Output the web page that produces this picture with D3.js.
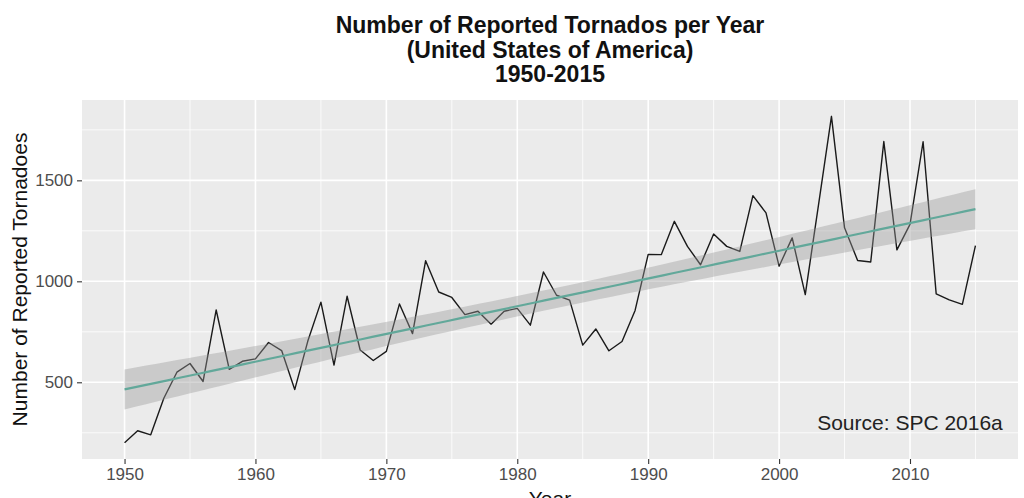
<!DOCTYPE html>
<html>
<head>
<meta charset="utf-8">
<script src="https://cdn.jsdelivr.net/npm/d3@7"></script>
<style>
body { margin: 0; background: #fff; }
svg { display: block; font-family: "Liberation Sans", Arial, sans-serif; }
</style>
</head>
<body>
<div id="chart"></div>
<script>
var WIDTH = 1024;
var HEIGHT = 498;
var PANEL = { left: 82, right: 1018, top: 100, bottom: 459 };

var years = d3.range(1950, 2016);
var tornadoes = [201, 260, 240, 421, 550, 593, 504, 858, 564, 604,
    616, 697, 657, 464, 704, 897, 585, 926, 660, 608,
    653, 888, 741, 1102, 947, 920, 835, 852, 788, 852,
    866, 783, 1046, 931, 907, 684, 764, 656, 702, 856,
    1133, 1132, 1297, 1173, 1082, 1234, 1173, 1148, 1424, 1339,
    1075, 1215, 934, 1374, 1817, 1265, 1103, 1096, 1692, 1156,
    1282, 1691, 938, 908, 886, 1177];
var xTicks = [1950, 1960, 1970, 1980, 1990, 2000, 2010];
var xMinor = [1955, 1965, 1975, 1985, 1995, 2005, 2015];
var yTicks = [500, 1000, 1500];
var yMinor = [250, 750, 1250, 1750];
var titleLines = ["Number of Reported Tornados per Year", "(United States of America)", "1950-2015"];
var sourceNote = { year: 2010, value: 300, text: "Source: SPC 2016a" };

// linear fit with 95% confidence band (like geom_smooth(method = "lm"))
function linearFit(xs, ys) {
    var n = xs.length;
    var mx = d3.mean(xs), my = d3.mean(ys);
    var sxx = d3.sum(xs, function (x) { return (x - mx) * (x - mx); });
    var sxy = d3.sum(xs, function (x, i) { return (x - mx) * (ys[i] - my); });
    var slope = sxy / sxx;
    var icpt = my - slope * mx;
    var sse = d3.sum(xs, function (x, i) { var r = ys[i] - (icpt + slope * x); return r * r; });
    var s = Math.sqrt(sse / (n - 2));
    var t = 1.9977; // qt(0.975, 64)
    var lo = d3.min(xs), hi = d3.max(xs);
    return d3.range(80).map(function (k) {
        var x = lo + (hi - lo) * k / 79;
        var fit = icpt + slope * x;
        var se = s * Math.sqrt(1 / n + (x - mx) * (x - mx) / sxx);
        return { x: x, y: fit, ymin: fit - t * se, ymax: fit + t * se };
    });
}
var smooth = linearFit(years, tornadoes);

var svg = d3.select("#chart").append("svg")
    .attr("width", WIDTH)
    .attr("height", HEIGHT);

var xExt = d3.extent(years);
var xPad = (xExt[1] - xExt[0]) * 0.05;
var x = d3.scaleLinear()
    .domain([xExt[0] - xPad, xExt[1] + xPad])
    .range([PANEL.left, PANEL.right]);

var yLo = Math.min(d3.min(tornadoes), d3.min(smooth, function (d) { return d.ymin; }));
var yHi = Math.max(d3.max(tornadoes), d3.max(smooth, function (d) { return d.ymax; }));
var yPad = (yHi - yLo) * 0.05;
var y = d3.scaleLinear()
    .domain([yLo - yPad, yHi + yPad])
    .range([PANEL.bottom, PANEL.top]);

// panel
svg.append("rect")
    .attr("x", PANEL.left).attr("y", PANEL.top)
    .attr("width", PANEL.right - PANEL.left)
    .attr("height", PANEL.bottom - PANEL.top)
    .attr("fill", "#EBEBEB");

var grid = svg.append("g");
grid.selectAll(".ymin").data(yMinor).enter().append("line")
    .attr("x1", PANEL.left).attr("x2", PANEL.right)
    .attr("y1", function (d) { return y(d); }).attr("y2", function (d) { return y(d); })
    .attr("stroke", "#fff").attr("stroke-width", 0.8);
grid.selectAll(".xmin").data(xMinor).enter().append("line")
    .attr("y1", PANEL.top).attr("y2", PANEL.bottom)
    .attr("x1", function (d) { return x(d); }).attr("x2", function (d) { return x(d); })
    .attr("stroke", "#fff").attr("stroke-width", 0.8);
grid.selectAll(".ymaj").data(yTicks).enter().append("line")
    .attr("x1", PANEL.left).attr("x2", PANEL.right)
    .attr("y1", function (d) { return y(d); }).attr("y2", function (d) { return y(d); })
    .attr("stroke", "#fff").attr("stroke-width", 1.6);
grid.selectAll(".xmaj").data(xTicks).enter().append("line")
    .attr("y1", PANEL.top).attr("y2", PANEL.bottom)
    .attr("x1", function (d) { return x(d); }).attr("x2", function (d) { return x(d); })
    .attr("stroke", "#fff").attr("stroke-width", 1.6);

// data line
var line = d3.line()
    .x(function (d, i) { return x(years[i]); })
    .y(function (d) { return y(d); });
svg.append("path")
    .datum(tornadoes)
    .attr("d", line)
    .attr("fill", "none")
    .attr("stroke", "#1a1a1a")
    .attr("stroke-width", 1.4)
    .attr("stroke-linejoin", "round");

// confidence ribbon + fit
svg.append("path")
    .datum(smooth)
    .attr("d", d3.area()
        .x(function (d) { return x(d.x); })
        .y0(function (d) { return y(d.ymin); })
        .y1(function (d) { return y(d.ymax); }))
    .attr("fill", "#999999")
    .attr("fill-opacity", 0.4);
svg.append("path")
    .datum(smooth)
    .attr("d", d3.line()
        .x(function (d) { return x(d.x); })
        .y(function (d) { return y(d.y); }))
    .attr("fill", "none")
    .attr("stroke", "#62A89A")
    .attr("stroke-width", 2.2);

// axes
var xAxis = svg.append("g")
    .attr("transform", "translate(0," + PANEL.bottom + ")")
    .call(d3.axisBottom(x).tickValues(xTicks).tickFormat(d3.format("d"))
        .tickSize(5).tickPadding(4));
var yAxis = svg.append("g")
    .attr("transform", "translate(" + PANEL.left + ",0)")
    .call(d3.axisLeft(y).tickValues(yTicks).tickFormat(d3.format("d"))
        .tickSize(5).tickPadding(4));
[xAxis, yAxis].forEach(function (g) {
    g.select(".domain").remove();
    g.selectAll(".tick line").attr("stroke", "#333").attr("stroke-width", 1.1);
    g.selectAll(".tick text").attr("fill", "#4D4D4D")
        .style("font-size", "17px");
});

// titles
svg.append("text")
    .attr("text-anchor", "middle")
    .attr("font-weight", "bold")
    .style("font-size", "23px")
    .attr("fill", "#111")
    .selectAll("tspan").data(titleLines).enter().append("tspan")
    .attr("x", (PANEL.left + PANEL.right) / 2)
    .attr("y", function (d, i) { return 33 + i * 24.5; })
    .text(function (d) { return d; });

svg.append("text")
    .attr("transform", "translate(27," + ((PANEL.top + PANEL.bottom) / 2) + ") rotate(-90)")
    .attr("text-anchor", "middle")
    .style("font-size", "21px")
    .attr("fill", "#111")
    .text("Number of Reported Tornadoes");

svg.append("text")
    .attr("x", (PANEL.left + PANEL.right) / 2)
    .attr("y", 506)
    .attr("text-anchor", "middle")
    .style("font-size", "21px")
    .attr("fill", "#111")
    .text("Year");

svg.append("text")
    .attr("x", x(sourceNote.year))
    .attr("y", y(sourceNote.value))
    .attr("dy", "0.35em")
    .attr("text-anchor", "middle")
    .style("font-size", "21px")
    .attr("fill", "#222")
    .text(sourceNote.text);
</script>
</body>
</html>
